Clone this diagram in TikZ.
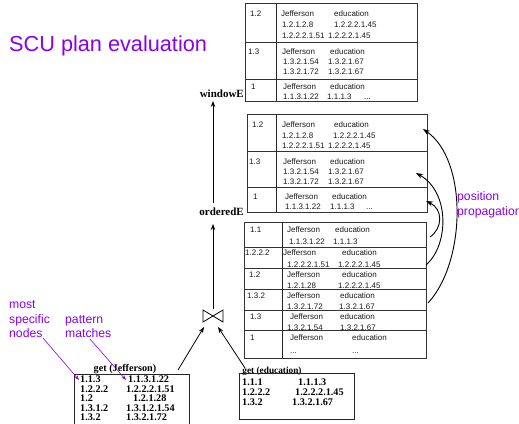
\documentclass[tikz,border=0pt]{standalone}
\usepackage{fontspec}
\setmainfont{Liberation Serif}
\setsansfont{Liberation Sans}
\usetikzlibrary{arrows.meta}
\definecolor{notecol}{RGB}{136,0,238}
\newcommand\etcdots{...}
\begin{document}
\begin{tikzpicture}[x=1pt,y=-1pt,
  tabrow/.style={draw=black!80,line width=0.8pt,inner sep=0pt,anchor=north west},
  tabline/.style={draw=black!85,line width=0.9pt},
  cell/.style={font=\sffamily\fontsize{8}{9}\selectfont,text=black!90,inner sep=0pt,anchor=west,text height=5.8pt,text depth=0pt},
  idx/.style={font=\bfseries\fontsize{10.2}{10}\selectfont,inner sep=0pt,anchor=west,text height=6.8pt,text depth=0pt},
  getbox/.style={draw=black!85,line width=0.9pt,inner sep=0pt,anchor=north west},
  gettitle/.style={font=\bfseries\fontsize{10.2}{10}\selectfont,inner sep=0pt},
  oplabel/.style={font=\bfseries\fontsize{11}{12}\selectfont,inner sep=0pt,anchor=east},
  note/.style={font=\sffamily\fontsize{12.2}{14}\selectfont,text=notecol,inner sep=0pt,anchor=west,text height=8.8pt,text depth=0pt},
  flow/.style={-{Stealth[length=6pt,width=4.5pt]},line width=0.8pt},
  prop/.style={-{Stealth[length=7pt,width=5pt]},line width=0.9pt},
  pointer/.style={-{Stealth[length=5pt,width=3.5pt]},draw=notecol,line width=0.6pt}]
\useasboundingbox (0,0) rectangle (519,423);
\clip (0,0) rectangle (519,423);

% title
\node[font=\sffamily\fontsize{21.7}{24}\selectfont,text=notecol,inner sep=0pt,anchor=base west] (title) at (9,51.5) {SCU plan evaluation};

% windowE result
\node[tabrow,minimum width=172pt,minimum height=39pt] (w1) at (245,3) {};
\node[tabrow,minimum width=172pt,minimum height=37pt] (w2) at (245,42) {};
\node[tabrow,minimum width=172pt,minimum height=22pt] (w3) at (245,79) {};
\draw[tabline] (276,3) -- (276,101);
\foreach \x/\y/\s [count=\i] in {
  250/14/1.2, 281/14/Jefferson, 334/14/education, 282/25/1.2.1.2.8, 334/25/1.2.2.2.1.45, 282/36/1.2.2.2.1.51, 328/36/1.2.2.2.1.45,
  248/52/1.3, 282/52/Jefferson, 330/52/education, 283/62/1.3.2.1.54, 328/62/1.3.2.1.67, 283/72/1.3.2.1.72, 328/72/1.3.2.1.67,
  251/87/1, 283/87/Jefferson, 330/87/education, 283/97/1.1.3.1.22, 327/97/1.1.1.3, 364/97/\etcdots}
  \node[cell] (wc\i) at (\x,\y) {\s};

% orderedE result
\node[tabrow,minimum width=180pt,minimum height=37pt] (o1) at (247,114) {};
\node[tabrow,minimum width=180pt,minimum height=36pt] (o2) at (247,151) {};
\node[tabrow,minimum width=180pt,minimum height=25pt] (o3) at (247,187) {};
\draw[tabline] (276,114) -- (276,212);
\foreach \x/\y/\s [count=\i] in {
  252/125/1.2, 282/125/Jefferson, 334/125/education, 282/136/1.2.1.2.8, 333/136/1.2.2.2.1.45, 282/146/1.2.2.2.1.51, 328/146/1.2.2.2.1.45,
  249/162/1.3, 283/162/Jefferson, 330/162/education, 283/172/1.3.2.1.54, 328/172/1.3.2.1.67, 283/182/1.3.2.1.72, 328/182/1.3.2.1.67,
  253/197/1, 285/197/Jefferson, 332/197/education, 285/207/1.1.3.1.22, 330/207/1.1.1.3, 366/207/\etcdots}
  \node[cell] (oc\i) at (\x,\y) {\s};

% join result
\node[tabrow,minimum width=182pt,minimum height=25pt] (j1) at (244,222) {};
\node[tabrow,minimum width=182pt,minimum height=21pt] (j2) at (244,247) {};
\node[tabrow,minimum width=182pt,minimum height=21pt] (j3) at (244,268) {};
\node[tabrow,minimum width=182pt,minimum height=21pt] (j4) at (244,289) {};
\node[tabrow,minimum width=182pt,minimum height=20pt] (j5) at (244,310) {};
\node[tabrow,minimum width=182pt,minimum height=28pt] (j6) at (244,330) {};
\draw[tabline] (282,222) -- (282,358);
\foreach \x/\y/\s [count=\i] in {
  250/230/1.1, 287/230/Jefferson, 335/230/education, 289/242/1.1.3.1.22, 333/242/1.1.1.3,
  245/253/1.2.2.2, 283/253/Jefferson, 342/253/education, 287/265/1.2.2.2.1.51, 338/265/1.2.2.2.1.45,
  249/275/1.2, 287/275/Jefferson, 342/275/education, 287/286/1.2.1.28, 338/286/1.2.2.2.1.45,
  247/296/1.3.2, 287/296/Jefferson, 340/296/education, 287/307/1.3.2.1.72, 339/307/1.3.2.1.67,
  250/317/1.3, 290/317/Jefferson, 340/317/education, 287/328/1.3.2.1.54, 340/328/1.3.2.1.67,
  250/338/1, 290/338/Jefferson, 352/338/education, 290/351/\etcdots, 352/351/\etcdots}
  \node[cell] (jc\i) at (\x,\y) {\s};

% get (Jefferson)
\node[gettitle] (gjt) at (125,369) {get (Jefferson)};
\node[getbox,minimum width=115pt,minimum height=55pt] (gj) at (74,374) {};
\foreach \x/\y/\s [count=\i] in {
  80/379.5/1.1.3, 128/379.5/1.1.3.1.22,
  80/389/1.2.2.2, 126/389/1.2.2.2.1.51,
  80/398.5/1.2, 133/398.5/1.2.1.28,
  80/408/1.3.1.2, 126/408/1.3.1.2.1.54,
  80/417.5/1.3.2, 126/417.5/1.3.2.1.72}
  \node[idx] (gjc\i) at (\x,\y) {\s};

% get (education)
\node[gettitle,font=\bfseries\fontsize{9.3}{10}\selectfont] (get) at (272,371) {get (education)};
\node[getbox,minimum width=115pt,minimum height=46pt] (ge) at (239,373) {};
\foreach \x/\y/\s [count=\i] in {
  242/382/1.1.1, 298/382/1.1.1.3,
  242/392/1.2.2.2, 295/392/1.2.2.2.1.45,
  242/402/1.3.2, 292/402/1.3.2.1.67}
  \node[idx] (gec\i) at (\x,\y) {\s};

% join operator
\coordinate (jn) at (213,316);
\draw[line width=0.8pt,line join=miter] (203,310) -- (223,322) -- (223,310) -- (203,322) -- cycle;

% operator labels
\node[oplabel] (wlab) at (244,94) {windowE};
\node[oplabel] (olab) at (244,212) {orderedE};

% plan arrows
\coordinate (jtop) at (213,309);
\coordinate (otip) at (213,224);
\coordinate (obase) at (213,203);
\coordinate (wtip) at (213,101);
\coordinate (gjout) at (178,370);
\coordinate (geout) at (245,368);
\coordinate (jleft) at (204,327);
\coordinate (jright) at (218,327);
\draw[flow] (jtop) -- (otip);
\draw[flow] (obase) -- (wtip);
\draw[flow] (gjout) -- (jleft);
\draw[flow] (geout) -- (jright);

% position propagation
\coordinate (pa0) at (430,237);
\coordinate (pa1) at (426,201);
\coordinate (pb0) at (426,265);
\coordinate (pb1) at (416,173);
\coordinate (pc0) at (428,303);
\coordinate (pc1) at (423,129);
\draw[prop] (pa0) .. controls (443,228) and (443,209) .. (pa1);
\draw[prop] (pb0) .. controls (449,245) and (450,192) .. (pb1);
\draw[prop] (pc0) .. controls (466,262) and (468,160) .. (pc1);
\node[note] (pp1) at (457,196) {position};
\node[note] (pp2) at (457,211) {propagation};

% annotations
\node[note] (ms1) at (9,304) {most};
\node[note] (ms2) at (9,319) {specific};
\node[note] (ms3) at (9,333) {nodes};
\node[note] (pm1) at (65,319) {pattern};
\node[note] (pm2) at (65,333) {matches};
\coordinate (ms0) at (43,338);
\coordinate (msend) at (79,380);
\coordinate (pm0) at (90,339);
\coordinate (pmend) at (126,380);
\draw[pointer] (ms0) -- (msend);
\draw[pointer] (pm0) -- (pmend);
\end{tikzpicture}
\end{document}
